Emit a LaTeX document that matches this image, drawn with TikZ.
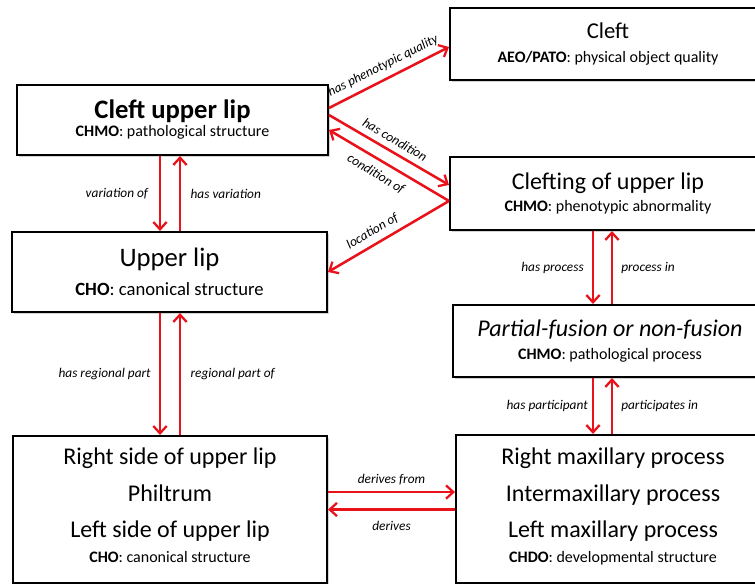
\documentclass[tikz,border=0pt]{standalone}
\usepackage{fontspec}
\setmainfont{Carlito}
\usetikzlibrary{arrows.meta,shadows}
\definecolor{relred}{RGB}{234,18,26}
\newcommand{\onto}[2]{\textbf{#1}: #2}
\newcommand{\term}[2]{{\fontsize{#1}{#1}\selectfont #2}}

\tikzset{
  box/.style={draw, line width=1.5pt, fill=white, rectangle, align=center,
    inner sep=0pt, font=\fontsize{12}{30}\selectfont,
    drop shadow={shadow xshift=1.2pt, shadow yshift=-1.2pt, opacity=0.35}},
  rel/.style={draw=relred, line width=1.9pt,
    -{Straight Barb[length=5.5pt,width=10pt,line width=1.7pt]}},
  lab/.style={font=\fontsize{10}{12}\selectfont\itshape, inner sep=2pt}
}

\begin{document}
\begin{tikzpicture}[x=0.75pt, y=-0.75pt]
  \clip (0,0) rectangle (755,584);

  % columns of the vertical arrows
  \coordinate (colA) at (160,0);
  \coordinate (colB) at (180,0);
  \coordinate (colC) at (593,0);
  \coordinate (colD) at (612,0);

  % left column
  \node[box, minimum width=233.25pt, minimum height=52.5pt] (cul) at (172.5,120)
    {\term{20}{\bfseries Cleft upper lip}\\[-16.5pt]\onto{CHMO}{pathological structure}};
  \node[box, minimum width=236.25pt, minimum height=60pt] (upper) at (169.5,272)
    {\term{20}{Upper lip}\\[-8pt]\term{14}{\onto{CHO}{canonical structure}}};
  \node[box, minimum width=235.5pt, minimum height=110.25pt] (sides) at (170,509.5)
    {\term{18}{Right side of upper lip}\\[-2.25pt]\term{18}{Philtrum}\\[-3pt]
     \term{18}{Left side of upper lip}\\[-11.25pt]\onto{CHO}{canonical structure}\rule[-6pt]{0pt}{6pt}};

  % right column
  \node[box, minimum width=237pt, minimum height=54pt] (cleft) at (608,44)
    {\term{17}{Cleft}\\[-12pt]\onto{AEO/PATO}{physical object quality}};
  \node[box, minimum width=237pt, minimum height=54.75pt] (clefting) at (608,193.5)
    {\term{18}{Clefting of upper lip}\\[-13.5pt]\onto{CHMO}{phenotypic abnormality}};
  \node[box, minimum width=235.5pt, minimum height=54pt] (fusion) at (610,341)
    {\term{18}{\itshape Partial-fusion or non-fusion}\\[-13pt]\onto{CHMO}{pathological process}};
  \node[box, minimum width=235.5pt, minimum height=111pt] (maxilla) at (613,509)
    {\term{18}{Right maxillary process}\\[-2.25pt]\term{18}{Intermaxillary process}\\[-3pt]
     \term{18}{Left maxillary process}\\[-11.25pt]\onto{CHDO}{developmental structure}\rule[-6pt]{0pt}{6pt}};

  % diagonal relations
  \draw[rel] ([yshift=9pt]cul.east) -- node[lab, sloped, above=2.5pt] {has phenotypic quality}
    ([yshift=-2.25pt]cleft.west);
  \draw[rel] ([yshift=3.75pt]cul.east) -- node[lab, sloped, above=2.5pt] {has condition}
    ([yshift=6.4pt]clefting.west);
  \draw[rel] ([yshift=-5.6pt]clefting.west) -- node[lab, sloped, below=3.5pt, pos=0.55] {condition of}
    ([yshift=-7.5pt]cul.east);
  \draw[rel] ([yshift=-5.6pt]clefting.west) -- node[lab, sloped, above=2.5pt, pos=0.58] {location of}
    (upper.east);

  % vertical relations, left
  \draw[rel] (cul.south -| colA) -- node[lab, left=6pt] {variation of} (upper.north -| colA);
  \draw[rel] (upper.north -| colB) -- node[lab, right=5pt] {has variation} (cul.south -| colB);
  \draw[rel] (upper.south -| colA) -- node[lab, left=4pt] {has regional part} (sides.north -| colA);
  \draw[rel] (sides.north -| colB) -- node[lab, right=5pt] {regional part of} (upper.south -| colB);

  % vertical relations, right
  \draw[rel] (clefting.south -| colC) -- node[lab, left=4pt] {has process} (fusion.north -| colC);
  \draw[rel] (fusion.north -| colD) -- node[lab, right=4pt] {process in} (clefting.south -| colD);
  \draw[rel] (fusion.south -| colC) -- node[lab, left=1pt] {has participant} (maxilla.north -| colC);
  \draw[rel] (maxilla.north -| colD) -- node[lab, right=4pt] {participates in} (fusion.south -| colD);

  % horizontal relations
  \draw[rel] ([yshift=13.1pt]sides.east) -- node[lab, above=2pt] {derives from}
    ([yshift=13.1pt]sides.east -| maxilla.west);
  \draw[rel] (maxilla.west |- sides.east) -- node[lab, below=6pt] {derives} (sides.east);
\end{tikzpicture}
\end{document}
